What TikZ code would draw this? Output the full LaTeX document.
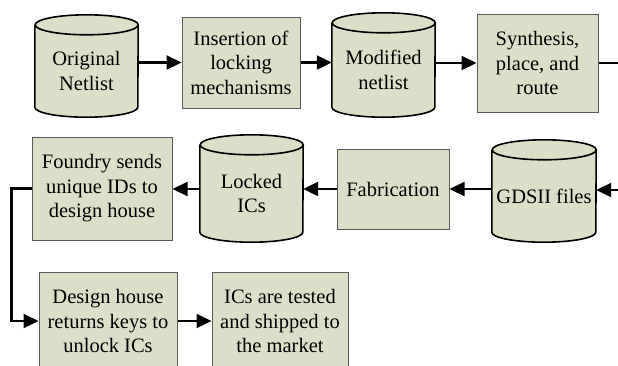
\documentclass[tikz,border=0pt]{standalone}
\usepackage{fontspec}
\setmainfont{Liberation Serif}
\usetikzlibrary{arrows.meta}
\definecolor{boxfill}{HTML}{DCDFC8}
\definecolor{boxline}{HTML}{5A5A5A}
\pgfdeclarelayer{bg}
\pgfsetlayers{bg,main}
\tikzset{
  txt/.style={font=\fontsize{20.5}{24.5}\selectfont, align=center, text=black, inner sep=0pt},
  procbox/.style={txt, rectangle, draw=boxline, line width=1pt, fill=boxfill},
  cylnode/.style={txt, rectangle, draw=none},
  cylfill/.style={fill=boxfill},
  cylline/.style={draw=black, line width=1.6pt},
  arr/.style={draw=black, line width=2.2pt, -{Triangle[length=15pt,width=14pt]}},
  conn/.style={draw=black, line width=2.2pt}
}
\newcommand\drawcyl[2]{% node name, half width
  \begin{pgfonlayer}{bg}
  \path[cylfill] (#1.north west) -- ([yshift=10pt]#1.south west)
    arc[start angle=180,end angle=360,x radius=#2,y radius=10pt]
    -- (#1.north east)
    arc[start angle=0,end angle=180,x radius=#2,y radius=10pt] -- cycle;
  \draw[cylline] (#1.north west) -- ([yshift=10pt]#1.south west)
    arc[start angle=180,end angle=360,x radius=#2,y radius=10pt]
    -- (#1.north east)
    arc[start angle=0,end angle=360,x radius=#2,y radius=10pt];
  \end{pgfonlayer}
}
\begin{document}
\begin{tikzpicture}[x=1pt,y=-1pt]
\useasboundingbox (0,0) rectangle (618,365);
\clip (0,0) rectangle (618,365);
% row 1
\node[cylnode, minimum width=103pt, minimum height=92pt] (orig) at (86.5,71) {Original\\Netlist};
\drawcyl{orig}{51.5pt}
\node[procbox, minimum width=118pt, minimum height=91pt] (ins) at (241,62.5) {Insertion of\\locking\\mechanisms};
\node[cylnode, minimum width=103pt, minimum height=94pt] (mod) at (383.5,70) {Modified\\netlist};
\drawcyl{mod}{51.5pt}
\node[procbox, minimum width=121pt, minimum height=98pt] (syn) at (537.5,63) {Synthesis,\\place, and\\route};
\coordinate (r1) at (618,63);
% row 2
\node[procbox, minimum width=140pt, minimum height=103pt] (fdy) at (102,188.5) {Foundry sends\\unique IDs to\\design house};
\node[cylnode, minimum width=103pt, minimum height=97pt] (lock) at (251.5,193.5) {Locked\\ICs};
\drawcyl{lock}{51.5pt}
\node[procbox, minimum width=112pt, minimum height=80pt] (fab) at (393,189) {Fabrication};
\node[cylnode, minimum width=104pt, minimum height=92pt] (gds) at (544,196) {GDSII files};
\drawcyl{gds}{52pt}
\coordinate (r2) at (618,190);
% row 3
\node[procbox, minimum width=138pt, minimum height=98pt] (dh) at (108,321) {Design house\\returns keys to\\unlock ICs};
\node[procbox, minimum width=136pt, minimum height=98pt] (ict) at (280,321) {ICs are tested\\and shipped to\\the market};
% connectors
\draw[arr] (orig.east |- ins.west) -- (ins.west);
\draw[arr] (ins.east) -- (ins.east -| mod.west);
\draw[arr] (mod.east |- syn.west) -- (syn.west);
\draw[conn] (syn.east) -- (syn.east -| r1);
\draw[arr] (r2) -- (r2 -| gds.east);
\draw[arr] (gds.west |- fab.east) -- (fab.east);
\draw[arr] (fab.west) -- (fab.west -| lock.east);
\draw[arr] (lock.west |- fab.west) -- (fdy.east |- fab.west);
\draw[arr] (fdy.west) -- ++(-20,0) |- (dh.west);
\draw[arr] (dh.east) -- (ict.west);
\end{tikzpicture}
\end{document}
